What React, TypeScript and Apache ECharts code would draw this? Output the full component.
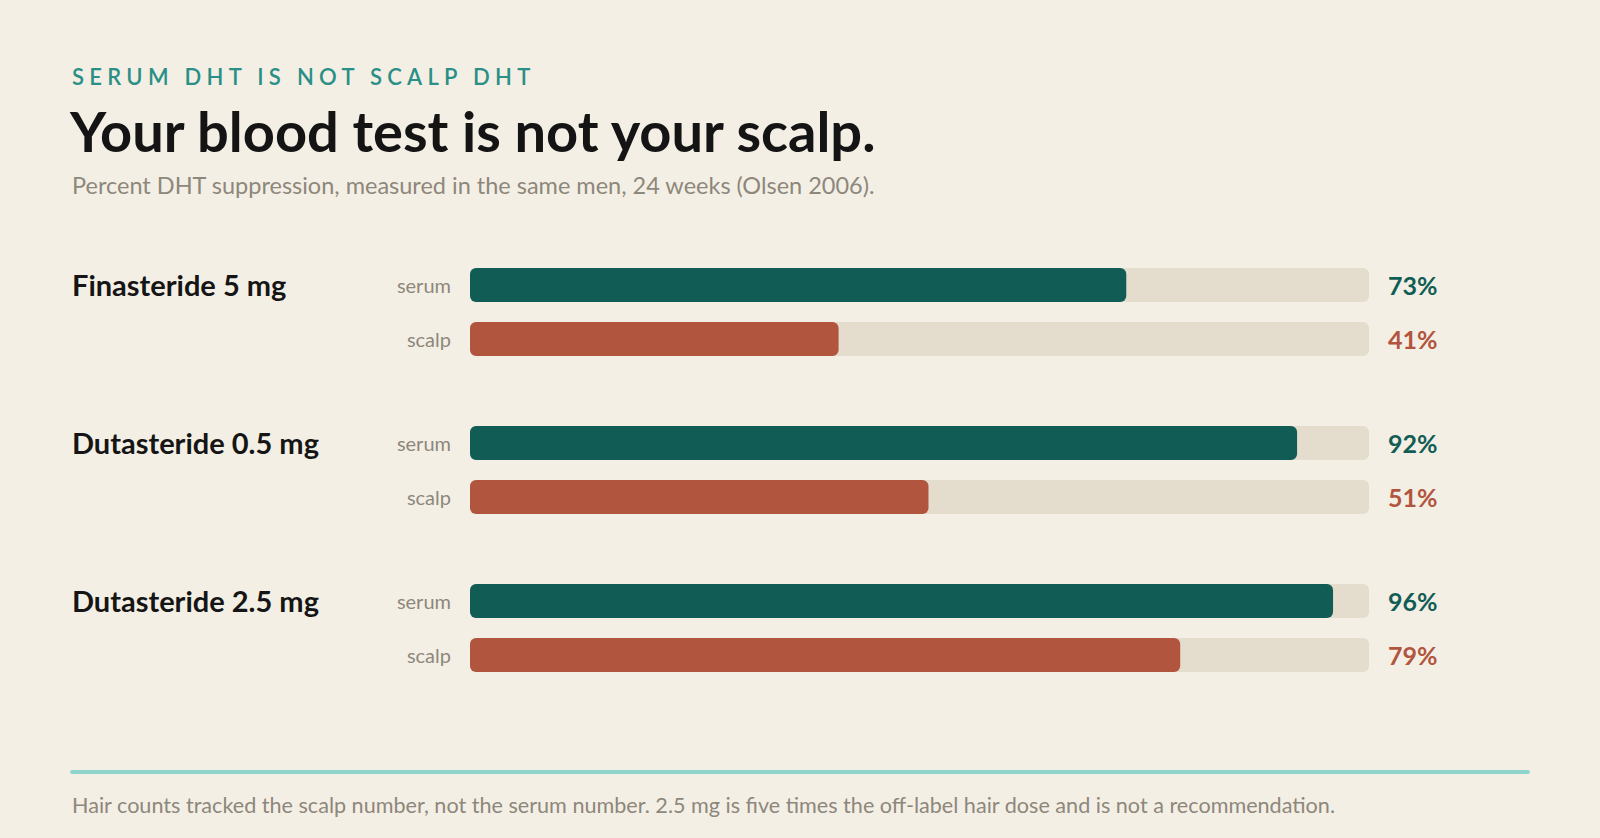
import * as echarts from "echarts";
import { useEffect, useRef } from "react";

const groups = ["Finasteride 5 mg", "Dutasteride 0.5 mg", "Dutasteride 2.5 mg"];
const measures = ["serum", "scalp"];
const serumValues = [73, 92, 96];
const scalpValues = [41, 51, 79];

const eyebrow = "SERUM DHT IS NOT SCALP DHT";
const headline = "Your blood test is not your scalp.";
const subline = "Percent DHT suppression, measured in the same men, 24 weeks (Olsen 2006).";
const footnote =
    "Hair counts tracked the scalp number, not the serum number. 2.5 mg is five times the off-label hair dose and is not a recommendation.";

const FONT = "Lato, 'Open Sans', sans-serif";
const TEAL = "#115d56";
const RUST = "#b2553f";
const EYEBROW = "#2a8f86";
const GRAY = "#8d877c";
const TRACK = "#e4dccd";

// layout of one group: two rows, 54px apart
const GROUP_TOP = 258;
const GROUP_STEP = 158;

const App: React.FC = () => {
    const node = useRef<HTMLDivElement>(null);

    useEffect(() => {
        document.body.style.margin = "0";
        const chart = echarts.init(node.current, null, { renderer: "svg" });

        const grids: any[] = [];
        const xAxes: any[] = [];
        const yAxes: any[] = [];
        const series: any[] = [];
        const graphics: any[] = [];

        groups.forEach((name, i) => {
            const values = [serumValues[i], scalpValues[i]];
            grids.push({ left: 470, right: 231, top: GROUP_TOP + i * GROUP_STEP, height: 108 });
            xAxes.push({ gridIndex: i, type: "value", min: 0, max: 100, show: false });
            yAxes.push({
                gridIndex: i,
                type: "category",
                data: measures,
                inverse: true,
                axisLine: { show: false },
                axisTick: { show: false },
                axisLabel: { color: GRAY, fontSize: 20, fontFamily: FONT, margin: 19 },
            });
            yAxes.push({
                gridIndex: i,
                type: "category",
                position: "right",
                data: values.map((v) => v + "%"),
                inverse: true,
                axisLine: { show: false },
                axisTick: { show: false },
                axisLabel: {
                    fontSize: 25,
                    fontWeight: "bold",
                    fontFamily: FONT,
                    margin: 19,
                    color: (_v: any, idx: number) => (idx === 0 ? TEAL : RUST),
                },
            });
            series.push({
                type: "bar",
                xAxisIndex: i,
                yAxisIndex: i * 2,
                barWidth: 34,
                showBackground: true,
                backgroundStyle: { color: TRACK, borderRadius: 6 },
                itemStyle: { borderRadius: 6 },
                data: values.map((v, k) => ({ value: v, itemStyle: { color: k === 0 ? TEAL : RUST } })),
            });
            graphics.push({
                type: "text",
                left: 72,
                top: GROUP_TOP + i * GROUP_STEP + 12,
                style: {
                    text: name,
                    fill: "#151515",
                    font: `bold 29px ${FONT}`,
                },
            });
        });

        graphics.push(
            {
                type: "text",
                left: 72,
                top: 65,
                style: { text: eyebrow, fill: EYEBROW, font: `600 22px ${FONT}` },
            },
            {
                type: "text",
                left: 70,
                top: 102,
                style: { text: headline, fill: "#141414", font: `bold 56px ${FONT}` },
            },
            {
                type: "text",
                left: 72,
                top: 173,
                style: { text: subline, fill: GRAY, font: `23.5px ${FONT}` },
            },
            {
                type: "line",
                shape: { x1: 72, y1: 772, x2: 1528, y2: 772 },
                style: { stroke: "#8fd5cb", lineWidth: 4, lineCap: "round" },
            },
            {
                type: "text",
                left: 72,
                top: 794,
                style: { text: footnote, fill: GRAY, font: `21.6px ${FONT}` },
            }
        );

        chart.setOption({
            animation: false,
            backgroundColor: "#f4efe4",
            grid: grids,
            xAxis: xAxes,
            yAxis: yAxes,
            series,
            graphic: graphics,
        });

        const listener = () => chart.resize();
        window.addEventListener("resize", listener);
        return () => {
            window.removeEventListener("resize", listener);
            chart.dispose();
        };
    }, []);

    return (
        <>
            <style>{`svg text[fill="${EYEBROW}"] { letter-spacing: 0.24em; }`}</style>
            <div ref={node} style={{ position: "fixed", left: 0, top: 0, width: "100vw", height: "100vh" }}></div>
        </>
    );
};

export default App;
